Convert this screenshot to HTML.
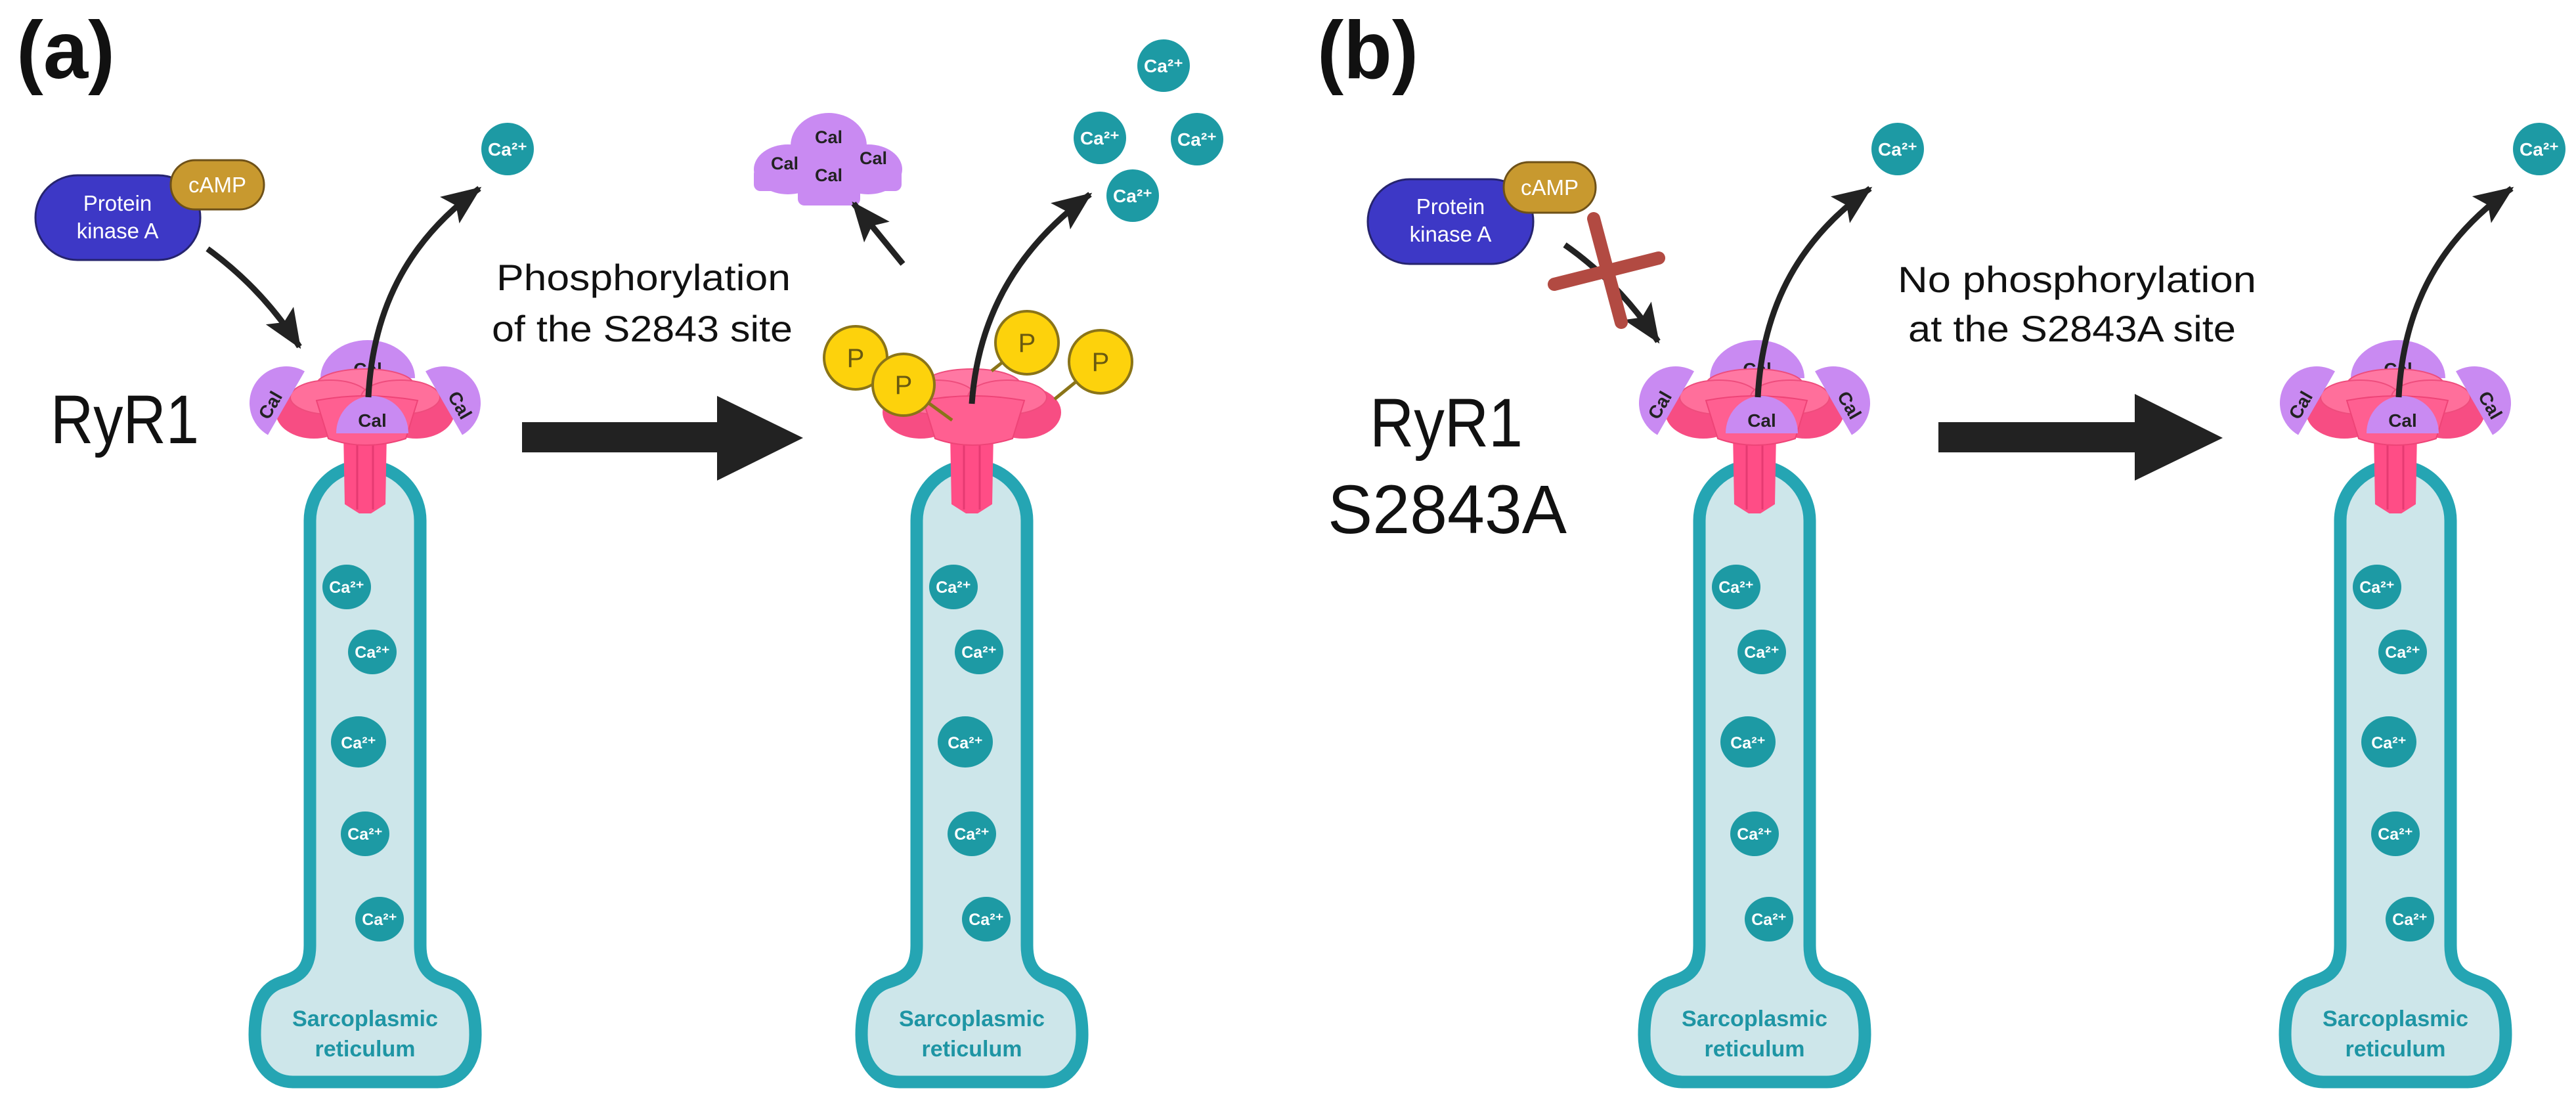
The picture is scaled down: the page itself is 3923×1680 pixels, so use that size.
<!DOCTYPE html>
<html><head><meta charset="utf-8"><style>
html,body{margin:0;padding:0;background:#fff;}
svg{display:block;}
text{font-family:"Liberation Sans",sans-serif;}
</style></head><body>
<svg width="3923" height="1680" viewBox="0 0 3923 1680" xmlns="http://www.w3.org/2000/svg">
<defs>
<marker id="ah" markerUnits="userSpaceOnUse" markerWidth="70" markerHeight="70" refX="56" refY="25" orient="auto">
<path d="M0 0 L60 25 L0 50 L12 25 Z" fill="#222"/>
</marker>
<g id="tube">
<path d="M -84 1440 L -84 793 A 84 84 0 0 1 84 793 L 84 1440 C 84 1485 110 1490 130 1497 C 160 1508 168 1540 168 1576 C 168 1625 140 1648 110 1648 L -110 1648 C -140 1648 -168 1625 -168 1576 C -168 1540 -160 1508 -130 1497 C -110 1490 -84 1485 -84 1440 Z" fill="#cde6ea" stroke="#25a5b3" stroke-width="19"/>
</g>
<g id="ions">
<ellipse cx="-28" cy="894" rx="37" ry="34" fill="#1d9aa4"/>
<ellipse cx="11" cy="993" rx="37" ry="34" fill="#1d9aa4"/>
<ellipse cx="-10" cy="1130" rx="42" ry="39" fill="#1d9aa4"/>
<ellipse cx="0" cy="1270" rx="37" ry="34" fill="#1d9aa4"/>
<ellipse cx="22" cy="1400" rx="37" ry="34" fill="#1d9aa4"/>
</g>
<g id="topcal"><path d="M -68 576 A 72 58 0 0 1 76 576 Z" fill="#c98af2"/></g>
<g id="pink">
<ellipse cx="0" cy="586" rx="74" ry="24" fill="#ff78a3" stroke="#ee4d7d" stroke-width="2"/>
<ellipse cx="-78" cy="628" rx="58" ry="40" fill="#f74d83"/>
<ellipse cx="78" cy="628" rx="58" ry="40" fill="#f74d83"/>
<ellipse cx="-54" cy="605" rx="60" ry="26" fill="#ff6f9b" stroke="#ee4d7d" stroke-width="2"/>
<ellipse cx="54" cy="605" rx="60" ry="26" fill="#ff6f9b" stroke="#ee4d7d" stroke-width="2"/>
<path d="M -33 660 L 33 660 L 31 768 L 9 782 L -9 782 L -31 768 Z" fill="#ff4d86"/>
<path d="M -12 665 L -12 776 M 12 665 L 12 776" stroke="#e63a72" stroke-width="3"/>
<path d="M -74 610 Q 0 596 80 610 L 62 668 Q 0 688 -56 668 Z" fill="#ff5f91" stroke="#ee4477" stroke-width="2"/>
</g>
<g id="sidecals">
<path d="M 0 -56 A 56 56 0 0 0 0 56 Z" fill="#c98af2" transform="translate(-120,614) rotate(30)"/>
<path d="M 0 -56 A 56 56 0 0 1 0 56 Z" fill="#c98af2" transform="translate(120,614) rotate(-30)"/>
<path d="M -44 660 A 55 57 0 0 1 66 660 Z" fill="#c98af2"/>
</g>
</defs>

<use href="#tube" x="556"/>
<use href="#tube" x="1480"/>
<use href="#tube" x="2672"/>
<use href="#tube" x="3648"/>
<use href="#ions" x="556"/>
<use href="#ions" x="1480"/>
<use href="#ions" x="2672"/>
<use href="#ions" x="3648"/>

<g font-size="25" fill="#fff" font-weight="bold" text-anchor="middle">
<text x="528" y="903">Ca²⁺</text><text x="567" y="1002">Ca²⁺</text><text x="546" y="1140">Ca²⁺</text><text x="556" y="1279">Ca²⁺</text><text x="578" y="1409">Ca²⁺</text>
<text x="1452" y="903">Ca²⁺</text><text x="1491" y="1002">Ca²⁺</text><text x="1470" y="1140">Ca²⁺</text><text x="1480" y="1279">Ca²⁺</text><text x="1502" y="1409">Ca²⁺</text>
<text x="2644" y="903">Ca²⁺</text><text x="2683" y="1002">Ca²⁺</text><text x="2662" y="1140">Ca²⁺</text><text x="2672" y="1279">Ca²⁺</text><text x="2694" y="1409">Ca²⁺</text>
<text x="3620" y="903">Ca²⁺</text><text x="3659" y="1002">Ca²⁺</text><text x="3638" y="1140">Ca²⁺</text><text x="3648" y="1279">Ca²⁺</text><text x="3670" y="1409">Ca²⁺</text>
</g>

<g font-size="34" font-weight="bold" fill="#1e95a4" text-anchor="middle">
<text x="556" y="1563" textLength="222" lengthAdjust="spacingAndGlyphs">Sarcoplasmic</text><text x="556" y="1609">reticulum</text>
<text x="1480" y="1563" textLength="222" lengthAdjust="spacingAndGlyphs">Sarcoplasmic</text><text x="1480" y="1609">reticulum</text>
<text x="2672" y="1563" textLength="222" lengthAdjust="spacingAndGlyphs">Sarcoplasmic</text><text x="2672" y="1609">reticulum</text>
<text x="3648" y="1563" textLength="222" lengthAdjust="spacingAndGlyphs">Sarcoplasmic</text><text x="3648" y="1609">reticulum</text>
</g>

<g>
<use href="#topcal" x="556"/><text x="560" y="572" font-size="28" font-weight="bold" fill="#222" text-anchor="middle">Cal</text>
<use href="#pink" x="556"/><use href="#sidecals" x="556"/>
<use href="#topcal" x="2672"/><text x="2676" y="572" font-size="28" font-weight="bold" fill="#222" text-anchor="middle">Cal</text>
<use href="#pink" x="2672"/><use href="#sidecals" x="2672"/>
<use href="#topcal" x="3648"/><text x="3652" y="572" font-size="28" font-weight="bold" fill="#222" text-anchor="middle">Cal</text>
<use href="#pink" x="3648"/><use href="#sidecals" x="3648"/>
<use href="#pink" x="1480"/>
</g>
<g font-size="28" font-weight="bold" fill="#222" text-anchor="middle">
<text transform="translate(420,622) rotate(-60)">Cal</text><text transform="translate(692,622) rotate(60)">Cal</text><text x="567" y="650">Cal</text>
<text transform="translate(2536,622) rotate(-60)">Cal</text><text transform="translate(2808,622) rotate(60)">Cal</text><text x="2683" y="650">Cal</text>
<text transform="translate(3512,622) rotate(-60)">Cal</text><text transform="translate(3784,622) rotate(60)">Cal</text><text x="3659" y="650">Cal</text>
</g>

<g stroke="#8a7418" stroke-width="5">
<line x1="1376" y1="586" x2="1450" y2="640"/>
<line x1="1564" y1="522" x2="1510" y2="565"/>
<line x1="1676" y1="551" x2="1606" y2="608"/>
</g>
<g fill="#fdd20c" stroke="#8a7418" stroke-width="4">
<circle cx="1303" cy="545" r="48"/><circle cx="1376" cy="586" r="47"/><circle cx="1564" cy="522" r="48"/><circle cx="1676" cy="551" r="48"/>
</g>
<g font-size="40" fill="#6a5a10" text-anchor="middle">
<text x="1303" y="559">P</text><text x="1376" y="600">P</text><text x="1564" y="536">P</text><text x="1676" y="565">P</text>
</g>

<g fill="#c98af2">
<ellipse cx="1262" cy="222" rx="58" ry="50"/>
<ellipse cx="1200" cy="258" rx="52" ry="38"/>
<ellipse cx="1322" cy="258" rx="52" ry="38"/>
<rect x="1148" y="255" width="225" height="36" rx="10"/>
<rect x="1215" y="255" width="95" height="58" rx="10"/>
</g>
<g font-size="27" font-weight="bold" fill="#222" text-anchor="middle">
<text x="1262" y="218">Cal</text><text x="1195" y="258">Cal</text><text x="1330" y="250">Cal</text><text x="1262" y="276">Cal</text>
</g>

<g fill="#1d9aa4">
<circle cx="773" cy="227" r="40"/>
<circle cx="1772" cy="100" r="40"/><circle cx="1675" cy="210" r="40"/><circle cx="1823" cy="212" r="40"/><circle cx="1725" cy="298" r="40"/>
<circle cx="2890" cy="227" r="40"/><circle cx="3867" cy="227" r="40"/>
</g>
<g font-size="28" font-weight="bold" fill="#fff" text-anchor="middle">
<text x="773" y="237">Ca²⁺</text>
<text x="1772" y="110">Ca²⁺</text><text x="1675" y="220">Ca²⁺</text><text x="1823" y="222">Ca²⁺</text><text x="1725" y="308">Ca²⁺</text>
<text x="2890" y="237">Ca²⁺</text><text x="3867" y="237">Ca²⁺</text>
</g>

<g fill="none" stroke="#222" stroke-width="9" marker-end="url(#ah)">
<path d="M 561 605 C 568 460 630 360 730 287"/>
<path d="M 1480 615 C 1490 470 1560 370 1660 296"/>
<path d="M 2677 605 C 2684 460 2746 360 2848 287"/>
<path d="M 3653 605 C 3660 460 3722 360 3825 287"/>
<path d="M 316 379 Q 400 440 456 528"/>
<path d="M 2383 373 Q 2465 430 2525 520"/>
<path d="M 1375 402 L 1300 310"/>
</g>

<g stroke="#b24a42" stroke-width="20" stroke-linecap="round">
<line x1="2427" y1="333" x2="2469" y2="491"/>
<line x1="2367" y1="433" x2="2526" y2="393"/>
</g>

<g>
<rect x="54" y="267" width="251" height="129" rx="64" fill="#3d38c6" stroke="#26246e" stroke-width="3"/>
<rect x="260" y="244" width="142" height="75" rx="37" fill="#c8992f" stroke="#6e5118" stroke-width="3"/>
<rect x="2083" y="273" width="252" height="129" rx="64" fill="#3d38c6" stroke="#26246e" stroke-width="3"/>
<rect x="2290" y="247" width="140" height="77" rx="38" fill="#c8992f" stroke="#6e5118" stroke-width="3"/>
</g>
<g font-size="33" fill="#fff" text-anchor="middle">
<text x="179" y="321">Protein</text><text x="179" y="363">kinase A</text>
<text x="331" y="293">cAMP</text>
<text x="2209" y="326">Protein</text><text x="2209" y="368">kinase A</text>
<text x="2360" y="297">cAMP</text>
</g>

<path d="M 795 643 L 1092 643 L 1092 603 L 1223 667 L 1092 732 L 1092 689 L 795 689 Z" fill="#222"/>
<path d="M 2952 643 L 3251 643 L 3251 600 L 3385 667 L 3251 732 L 3251 689 L 2952 689 Z" fill="#222"/>

<g fill="#111">
<text x="25" y="119" font-size="124" font-weight="bold" textLength="150" lengthAdjust="spacingAndGlyphs">(a)</text>
<text x="2006" y="119" font-size="124" font-weight="bold" textLength="154" lengthAdjust="spacingAndGlyphs">(b)</text>
<text x="77" y="675" font-size="105" textLength="226" lengthAdjust="spacingAndGlyphs">RyR1</text>
<text x="2086" y="680" font-size="105" textLength="233" lengthAdjust="spacingAndGlyphs">RyR1</text>
<text x="2022" y="812" font-size="105" textLength="364" lengthAdjust="spacingAndGlyphs">S2843A</text>
<text x="756" y="442" font-size="56" textLength="448" lengthAdjust="spacingAndGlyphs">Phosphorylation</text>
<text x="749" y="520" font-size="56" textLength="458" lengthAdjust="spacingAndGlyphs">of the S2843 site</text>
<text x="2890" y="445" font-size="56" textLength="546" lengthAdjust="spacingAndGlyphs">No phosphorylation</text>
<text x="2906" y="520" font-size="56" textLength="499" lengthAdjust="spacingAndGlyphs">at the S2843A site</text>
</g>
</svg>
</body></html>
